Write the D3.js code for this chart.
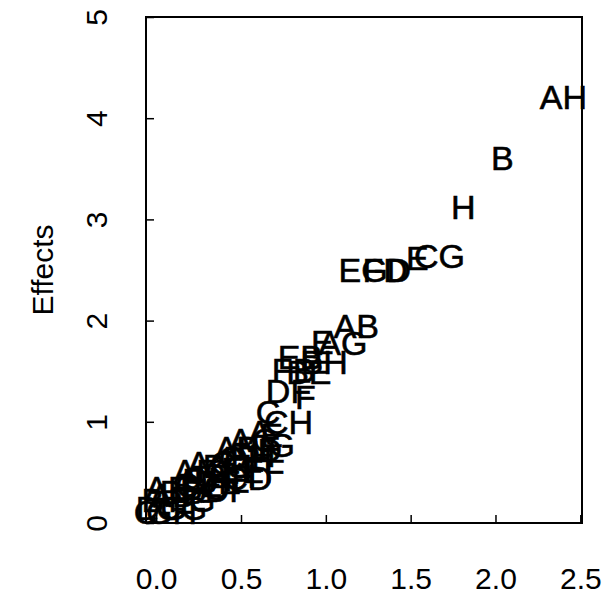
<!DOCTYPE html>
<html>
<head>
<meta charset="utf-8">
<script src="https://cdn.jsdelivr.net/npm/d3@7"></script>
<style>
  body { margin: 0; background: #fff; }
  svg text { font-family: "Liberation Sans", Arial, Helvetica, sans-serif; fill: #000; }
</style>
</head>
<body>
<div id="chart"></div>
<script>
// half-normal plot of effects: label, half-normal quantile, |effect|
const labels = ["AH","B","H","CG","E","D","FD","EG","AB","AG","E","EB","BH","FB","BE","DF","F","C","CH","A","E","D","AC","BF","DH","C","EF","BG","C","AF","GH","CE","BD","AE","CG","DG","C",
                "B","AD","FG","BC","DE","AG","BH","CD","EF","FH","AB","G","DF","GH","E"];
const quantiles = [2.40,2.04,1.81,1.67,1.54,1.43,1.35,1.22,1.18,1.10,0.98,0.85,0.99,0.81,0.90,0.78,0.88,0.66,0.78,0.61,0.68,0.67,0.57,0.60,0.54,0.44,0.51,0.42,0.36,0.23,0.30,0.25,0.16,0.07,0.15,0.03,-0.06,
                   -0.02,0.10,0.21,0.28,0.36,0.33,0.45,0.54,0.63,0.57,0.48,0.74,0.42,0.09,0.22];
const effects = [4.21,3.61,3.12,2.64,2.62,2.50,2.50,2.50,1.95,1.78,1.79,1.64,1.59,1.51,1.49,1.31,1.25,1.10,1.00,0.90,0.87,0.72,0.82,0.74,0.64,0.64,0.54,0.57,0.52,0.52,0.44,0.38,0.31,0.35,0.15,0.15,0.11,
                 0.23,0.28,0.23,0.35,0.41,0.60,0.47,0.45,0.52,0.67,0.74,0.77,0.33,0.11,0.43];

const xTicks = [0, 0.5, 1, 1.5, 2, 2.5];
const yTicks = [0, 1, 2, 3, 4, 5];
const yTitle = "Effects";

const width = 605, height = 596;
const box = {left: 146, right: 582, top: 17, bottom: 523};

const svg = d3.select("#chart").append("svg")
    .attr("width", width)
    .attr("height", height);

const x = d3.scaleLinear().domain([-0.06, 2.51]).range([box.left, box.right]);
const y = d3.scaleLinear().domain([0, 5]).range([box.bottom, box.top]);

// frame
svg.append("rect")
    .attr("x", box.left).attr("y", box.top)
    .attr("width", box.right - box.left)
    .attr("height", box.bottom - box.top)
    .attr("fill", "none")
    .attr("stroke", "#000")
    .attr("stroke-width", 2);

// x axis (ticks point into the box)
const xAxis = svg.append("g")
    .attr("transform", "translate(0," + box.bottom + ")")
    .call(d3.axisTop(x).tickValues(xTicks).tickSize(8).tickFormat(d3.format(".1f")));
xAxis.select(".domain").remove();
xAxis.selectAll("line").attr("stroke-width", 1.5);
xAxis.selectAll("text")
    .attr("y", 55)
    .attr("dy", "0.35em")
    .style("font-size", "30px");

// y axis, labels turned like R's default
const yAxis = svg.append("g")
    .attr("transform", "translate(" + box.left + ",0)")
    .call(d3.axisRight(y).tickValues(yTicks).tickSize(8).tickFormat(d3.format("d")));
yAxis.select(".domain").remove();
yAxis.selectAll("line").attr("stroke-width", 1.5);
yAxis.selectAll("text")
    .attr("x", 0).attr("y", 0)
    .attr("dy", "0.35em")
    .attr("text-anchor", "middle")
    .attr("transform", "translate(-50,0) rotate(-90)")
    .style("font-size", "30px");

svg.append("text")
    .attr("transform", "translate(42," + ((box.top + box.bottom) / 2) + ") rotate(-90)")
    .attr("text-anchor", "middle")
    .attr("dy", "0.35em")
    .style("font-size", "30px")
    .text(yTitle);

// point labels
svg.append("g").selectAll("text")
    .data(labels)
    .join("text")
    .attr("x", (d, i) => x(quantiles[i]))
    .attr("y", (d, i) => y(effects[i]))
    .attr("dy", "0.36em")
    .attr("text-anchor", "middle")
    .attr("stroke", "#000")
    .attr("stroke-width", 0.6)
    .style("font-size", "34px")
    .text(d => d);
</script>
</body>
</html>
